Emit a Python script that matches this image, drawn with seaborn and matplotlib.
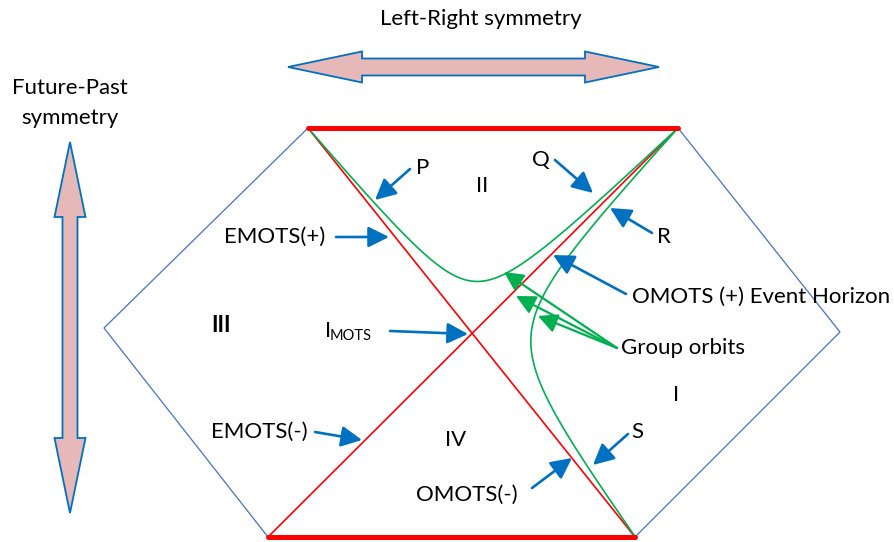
import numpy as np
import matplotlib
matplotlib.use("Agg")
import matplotlib.pyplot as plt
from matplotlib.patches import Polygon
import seaborn as sns
import pandas as pd

sns.set_theme(style="white")
plt.rcParams['font.family'] = ['Lato', 'DejaVu Sans']

W, H = 895, 542

# ---- diagram geometry (pixel coordinates) ----
center = np.array([472.0, 333.0])
corner_tr = np.array([678.0, 128.0])
corner_tl = np.array([308.0, 128.0])
corner_br = np.array([635.0, 537.0])
corner_bl = np.array([268.0, 537.0])
left_vertex = np.array([104.0, 328.0])
right_vertex = np.array([840.0, 332.0])

# orbit constants (U*V = const in Kruskal-like coordinates)
orbit_upper = 0.040     # region II orbit (P, Q)
orbit_right = -0.066    # region I orbit (R, S)

FS = 16
# text labels: (text, x, y, size, weight, ha)
labels = [
    ("Left-Right symmetry", 481, 19, FS, "normal", "center"),
    ("Future-Past", 70, 88, FS, "normal", "center"),
    ("symmetry", 70, 118, FS, "normal", "center"),
    ("P", 423, 168, FS, "normal", "center"),
    ("II", 482, 186, FS, "normal", "center"),
    ("Q", 541, 160, FS, "normal", "center"),
    ("R", 664, 237, FS, "normal", "center"),
    ("EMOTS(+)", 325, 237, FS, "normal", "right"),
    ("OMOTS (+) Event Horizon", 632, 297, FS, "normal", "left"),
    ("III", 221, 326, FS, "bold", "center"),
    ("Group orbits", 621, 348, FS, "normal", "left"),
    ("I", 676, 395, FS, "normal", "center"),
    ("EMOTS(-)", 308, 432, FS, "normal", "right"),
    ("IV", 456, 440, FS, "normal", "center"),
    ("S", 637, 432, FS, "normal", "center"),
    ("OMOTS(-)", 467, 495, FS, "normal", "center"),
]

# blue pointer arrows: (tail, head)
blue_arrows = [
    ((410, 169), (375, 200)),   # P
    ((555, 160), (593, 193)),   # Q
    ((652, 233), (610, 208)),   # R
    ((336, 237), (389, 237)),   # EMOTS(+)
    ((626, 294), (553, 255)),   # OMOTS(+)
    ((390, 331), (468, 334)),   # I_MOTS
    ((315, 432), (362, 440)),   # EMOTS(-)
    ((628, 434), (593, 465)),   # S
    ((532, 488), (572, 458)),   # OMOTS(-)
]

# green "Group orbits" arrows
green_tail = (617, 348)
green_heads = [(504, 272), (516, 296), (538, 316)]

# big symmetry arrows: (tip1, tip2, shaft width, head width, head length)
big_arrows = [
    ((288, 67), (659, 67), 17, 31, 74),
    ((70, 142), (70, 513), 15, 31, 75),
]

RED = "#FF0000"
GREEN = "#00B050"
BLUE = "#0070C0"
OUTLINE = "#4472C4"

fig = plt.figure(figsize=(W / 100, H / 100), dpi=100)
ax = fig.add_axes([0, 0, 1, 1])
ax.set_xlim(0, W)
ax.set_ylim(H, 0)
ax.axis("off")


def line(pts, color, lw, z=2):
    pts = np.asarray(pts, dtype=float)
    df = pd.DataFrame({"x": pts[:, 0], "y": pts[:, 1], "i": np.arange(len(pts))})
    sns.lineplot(data=df, x="x", y="y", sort=False, estimator=None, color=color,
                 lw=lw, ax=ax, zorder=z, legend=False)


# outer diamond edges
line([corner_tl, left_vertex, corner_bl], OUTLINE, 0.9)
line([corner_tr, right_vertex, corner_br], OUTLINE, 0.9)

# red horizons / singularities
line([corner_tl, corner_br], RED, 1.2)
line([corner_tr, corner_bl], RED, 1.2)
line([corner_tl, corner_tr], RED, 3.6, z=3)
line([corner_bl, corner_br], RED, 3.6, z=3)

# green orbits in compactified null coordinates
A = corner_tr - center
B = corner_tl - center
U = np.logspace(-5, 5, 600)


def orbit(k):
    V = k / U
    s = (2 / np.pi) * np.arctan(U)
    t = (2 / np.pi) * np.arctan(V)
    return center + np.outer(s, A) + np.outer(t, B)


line(orbit(orbit_upper), GREEN, 1.2)
line(orbit(orbit_right), GREEN, 1.2)

# big double-headed arrows
for p1, p2, sw, hw, hl in big_arrows:
    p1 = np.array(p1, float); p2 = np.array(p2, float)
    L = np.linalg.norm(p2 - p1)
    d = (p2 - p1) / L
    n = np.array([-d[1], d[0]])
    local = [(0, 0), (hl, hw / 2), (hl, sw / 2), (L - hl, sw / 2), (L - hl, hw / 2), (L, 0),
             (L - hl, -hw / 2), (L - hl, -sw / 2), (hl, -sw / 2), (hl, -hw / 2)]
    verts = [p1 + a * d + b * n for a, b in local]
    ax.add_patch(Polygon(verts, closed=True, facecolor="#E6B9B8", edgecolor=BLUE, lw=1.3, zorder=4))

# pointer arrows
for tail, head in blue_arrows:
    ax.annotate("", xy=head, xytext=tail,
                arrowprops=dict(arrowstyle="-|>,head_length=0.9,head_width=0.45",
                                mutation_scale=14, color=BLUE, lw=1.9,
                                shrinkA=0, shrinkB=0), zorder=5)
for head in green_heads:
    ax.annotate("", xy=head, xytext=green_tail,
                arrowprops=dict(arrowstyle="-|>,head_length=0.9,head_width=0.45",
                                mutation_scale=13, color=GREEN, lw=1.6,
                                shrinkA=0, shrinkB=0), zorder=5)

# labels
for txt, x, y, size, weight, ha in labels:
    ax.text(x, y, txt, fontsize=size, fontweight=weight, ha=ha, va="center",
            color="black", zorder=6)

# I_MOTS with subscript
ax.text(325, 331, "I", fontsize=FS, ha="left", va="center", color="black", zorder=6)
ax.text(330, 336, "MOTS", fontsize=10.5, ha="left", va="center", color="black", zorder=6)

fig.savefig("out.png", dpi=100)
